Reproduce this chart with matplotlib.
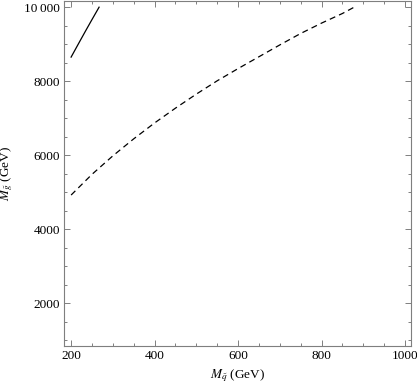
import matplotlib
matplotlib.use("Agg")
import matplotlib.pyplot as plt
from matplotlib.ticker import MultipleLocator, FuncFormatter

# curve data (squark mass vs gluino mass, GeV)
solid_mq = [200, 220, 235, 250, 267]
solid_mg = [8650, 9060, 9365, 9665, 10000]

dashed_mq = [200, 250, 300, 350, 400, 450, 500, 550, 600, 650, 700, 750, 800, 850, 878]
dashed_mg = [4920, 5480, 5980, 6440, 6870, 7270, 7650, 8010, 8340, 8660, 8980, 9290, 9570, 9830, 10000]

x_ticks = [200, 400, 600, 800, 1000]
y_ticks = [2000, 4000, 6000, 8000, 10000]

plt.rcParams["font.family"] = ["Liberation Serif", "DejaVu Serif"]
plt.rcParams["mathtext.fontset"] = "stix"
plt.rcParams["lines.scale_dashes"] = False

fig = plt.figure(figsize=(4.17, 3.92), dpi=100)
ax = fig.add_axes([0.1535, 0.1173, 0.832, 0.881])

ax.plot(solid_mq, solid_mg, color="black", lw=0.9)
ax.plot(dashed_mq, dashed_mg, color="black", lw=0.9, dashes=(4.3, 3.0))

ax.set_xlim(183, 1014)
ax.set_ylim(838, 10176)

ax.set_xticks(x_ticks)
ax.set_yticks(y_ticks)
ax.xaxis.set_minor_locator(MultipleLocator(50))
ax.yaxis.set_minor_locator(MultipleLocator(500))
ax.yaxis.set_major_formatter(FuncFormatter(
    lambda v, p: f"{int(v):,}".replace(",", "\u2009") if v >= 10000 else f"{int(v)}"))

for s in ax.spines.values():
    s.set_color("#7f7f7f")
    s.set_linewidth(0.8)
ax.tick_params(which="both", direction="in", top=True, right=True,
               color="#7f7f7f", labelsize=9.5, width=0.7)
ax.tick_params(which="major", length=4, pad=3)
ax.tick_params(which="minor", length=2.2)

ax.set_xlabel(r"$M_{\tilde{q}}$ (GeV)", fontsize=9.5, labelpad=4)
ax.set_ylabel(r"$M_{\tilde{g}}$ (GeV)", fontsize=9.5)
ax.yaxis.set_label_coords(-0.14, 0.5)

fig.savefig("out.png", dpi=100)
